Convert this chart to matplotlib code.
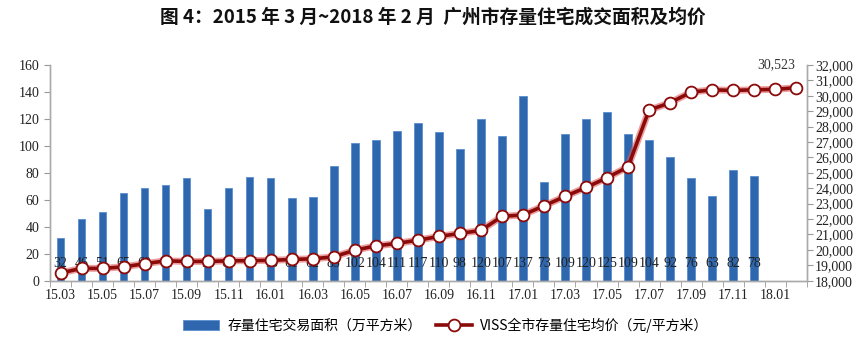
import matplotlib
matplotlib.use("Agg")
import matplotlib.pyplot as plt
from matplotlib.ticker import FuncFormatter, FixedLocator
import numpy as np

months = ["15.03","15.04","15.05","15.06","15.07","15.08","15.09","15.10","15.11","15.12",
          "16.01","16.02","16.03","16.04","16.05","16.06","16.07","16.08","16.09","16.10",
          "16.11","16.12","17.01","17.02","17.03","17.04","17.05","17.06","17.07","17.08",
          "17.09","17.10","17.11","17.12","18.01","18.02"]
area = [32, 46, 51, 65, 69, 71, 76, 53, 69, 77, 76, 61, 62, 85, 102, 104, 111, 117,
        110, 98, 120, 107, 137, 73, 109, 120, 125, 109, 104, 92, 76, 63, 82, 78]
price = [18500, 18800, 18800, 18900, 19100, 19290, 19250, 19250, 19290, 19300, 19320, 19380,
         19420, 19550, 19980, 20260, 20420, 20630, 20870, 21070, 21260, 22170, 22270, 22860,
         23470, 24050, 24680, 25390, 29070, 29550, 30240, 30390, 30350, 30390, 30420, 30523]
tick_labels = months[::2]

CJK = ['Noto Sans CJK SC', 'DejaVu Sans']
SERIF = ['Liberation Serif', 'DejaVu Serif']

fig = plt.figure(figsize=(8.61, 3.43), dpi=100)
ax = fig.add_axes([50/861, 1-280.7/343, 756.7/861, 215.7/343])
ax2 = ax.twinx()
ax.set_zorder(1); ax.patch.set_visible(False)
ax2.set_zorder(2)

x = np.arange(len(months))
xb = x[:len(area)]
ax.bar(xb, area, width=0.36, color='#2F67AE', edgecolor='#5B8FD0', linewidth=0.6,
       label='存量住宅交易面积（万平方米）')
for xi, v in zip(xb, area):
    ax.text(xi, 13, str(v), ha='center', va='center', fontsize=10, color='#222222',
            family=SERIF, zorder=5)

ax.set_xlim(-0.5, len(months)-0.5)
ax.set_ylim(0, 160)
ax.set_yticks(np.arange(0, 161, 20))
ax.xaxis.set_major_locator(FixedLocator(np.arange(0, len(months), 2)))
ax.set_xticklabels(tick_labels)
ax.xaxis.set_minor_locator(FixedLocator(np.arange(-0.5, len(months), 1)))
ax.tick_params(axis='x', which='major', length=0, pad=6, labelsize=10, labelcolor='#222222')
ax.tick_params(axis='x', which='minor', length=4, color='#999999', direction='out')
ax.tick_params(axis='y', length=4, color='#999999', labelsize=10, labelcolor='#222222')
for lab in ax.get_xticklabels() + ax.get_yticklabels():
    lab.set_family(SERIF)

# price line with glow
ax2.plot(x, price, color='#E06060', linewidth=5, alpha=0.6, solid_capstyle='round', zorder=3)
ax2.plot(x, price, color='#8B0A0A', linewidth=2.6, marker='o', markersize=8.5,
         markerfacecolor='white', markeredgecolor='#8B0A0A', markeredgewidth=1.3,
         label='VISS全市存量住宅均价（元/平方米）', zorder=4)
ax2.set_ylim(18000, 32000)
ax2.set_yticks(np.arange(18000, 32001, 1000))
ax2.yaxis.set_major_formatter(FuncFormatter(lambda v, p: f"{int(v):,}"))
ax2.tick_params(axis='y', length=4, color='#999999', labelsize=10, labelcolor='#222222', pad=2)
for lab in ax2.get_yticklabels():
    lab.set_family(SERIF)
ax2.annotate(f"{price[-1]:,}", xy=(x[-1], price[-1]), xytext=(-1, 12),
             textcoords='offset points', ha='right', va='bottom', fontsize=10,
             family=SERIF, color='#333333')

for a in (ax, ax2):
    a.spines['top'].set_visible(False)
    for s in ('left', 'right', 'bottom'):
        a.spines[s].set_color('#AAAAAA')
        a.spines[s].set_linewidth(1.0)

fig.text(433/861, 0.95, "图 4：2015 年 3 月~2018 年 2 月  广州市存量住宅成交面积及均价",
         ha='center', va='center', fontsize=13.5, fontweight='bold', family=CJK, color='#111111')

h1, l1 = ax.get_legend_handles_labels()
h2, l2 = ax2.get_legend_handles_labels()
fig.legend(h1 + h2, l1 + l2, loc='center', bbox_to_anchor=(446/861, 1-325/343), ncol=2,
           frameon=False, prop={'family': CJK, 'size': 10}, handlelength=2.6,
           columnspacing=1.0, handletextpad=0.6)

fig.savefig("out.png", dpi=100)
